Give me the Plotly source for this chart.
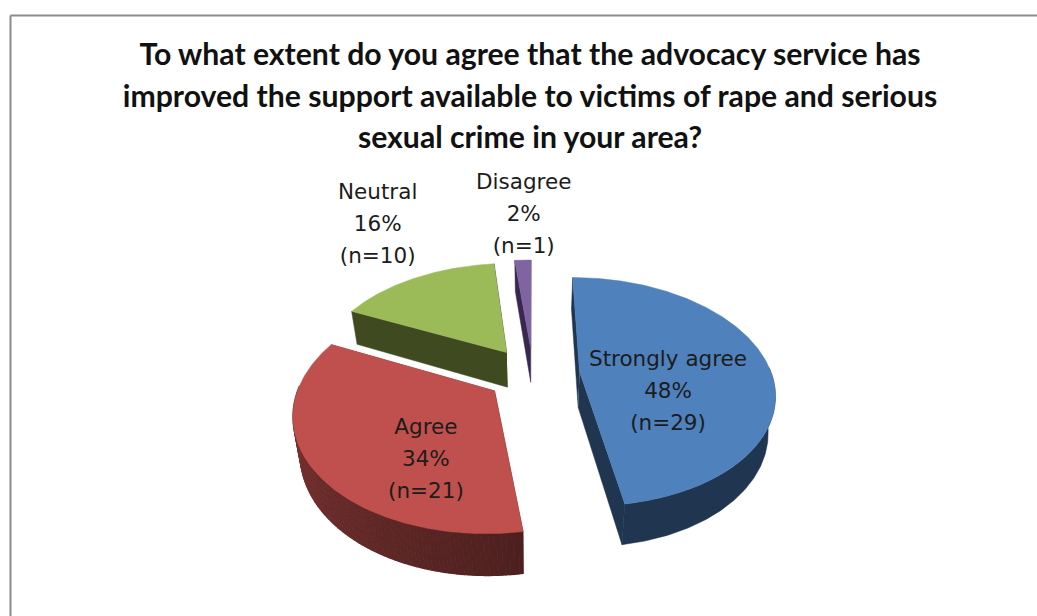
import numpy as np
import plotly.graph_objects as go

# ---- data ----
categories = ["Strongly agree", "Agree", "Neutral", "Disagree"]
percents = [48, 34, 16, 2]
counts = [29, 21, 10, 1]
title_lines = [
    "To what extent do you agree that the advocacy service has",
    "improved the support available to victims of rape and serious",
    "sexual crime in your area?",
]

# ---- style and geometry ----
top_colors = ["#4F81BD", "#C0504D", "#9BBB59", "#8064A2"]
side_colors = ["#1F3550", "#C0504D", "#3F4A20", "#38284F"]
# wall brightness at the start/end of each slice's arc (only Agree is graded)
wall_shade = [(1, 1), (0.40, 0.72), (1, 1), (1, 1)]
label_xy = [(668, 390), (426, 458), (377, 223), (523, 213)]
W, H = 1037, 616
CX, CY, A, B, K = 533, 374, 192, 111.5, 0.174
EXPLODE, DEPTH = 0.244, 35.5


def project(u, v):
    s = 1 / (1 - K * v)
    return CX + A * u * s, CY + B * v * s


def lower(x, y):
    return CX + (x - CX) * 0.97, y + DEPTH + (y - CY) * 0.04


def shade(hex_color, f):
    r, g, b = (int(hex_color[i:i + 2], 16) for i in (1, 3, 5))
    return f"rgb({r * f:.0f},{g * f:.0f},{b * f:.0f})"


def poly(xs, ys, color, width=0.5):
    return go.Scatter(x=list(xs), y=list(ys), mode="lines", fill="toself", fillcolor=color,
                      line=dict(color=color, width=width), hoverinfo="skip", showlegend=False)


fig = go.Figure()
total = sum(counts)
edges = np.cumsum([0] + counts) / total * 2 * np.pi
tops = []
for i in range(len(categories)):
    t0, t1 = edges[i], edges[i + 1]
    mid = (t0 + t1) / 2
    du, dv = EXPLODE * np.sin(mid), -EXPLODE * np.cos(mid)
    t = np.linspace(t0, t1, 241)
    x, y = project(du + np.sin(t), dv - np.cos(t))
    ax, ay = project(du, dv)
    lx, ly = lower(x, y)
    lax, lay = lower(ax, ay)
    s0, s1 = wall_shade[i]
    # radial faces
    fig.add_trace(poly([ax, x[0], lx[0], lax], [ay, y[0], ly[0], lay], shade(side_colors[i], s0)))
    fig.add_trace(poly([ax, x[-1], lx[-1], lax], [ay, y[-1], ly[-1], lay], shade(side_colors[i], s1)))
    # outer wall: only the part that faces the viewer
    front = -np.cos(t) > -0.05
    if front.any():
        idx = np.where(front)[0]
        a, b = idx[0], idx[-1]
        if s0 == s1:
            fig.add_trace(poly(np.r_[x[a:b + 1], lx[a:b + 1][::-1]], np.r_[y[a:b + 1], ly[a:b + 1][::-1]],
                               shade(side_colors[i], s0)))
        else:
            for j in range(a, b, 2):
                k = min(j + 2, b)
                f = s0 + (s1 - s0) * j / 240
                fig.add_trace(poly(np.r_[x[j:k + 1], lx[j:k + 1][::-1]], np.r_[y[j:k + 1], ly[j:k + 1][::-1]],
                                   shade(side_colors[i], f), width=1.2))
    tops.append(poly(np.r_[ax, x], np.r_[ay, y], top_colors[i]))
for tr in tops:
    fig.add_trace(tr)

annotations = []
for name, pct, n, (lx_, ly_) in zip(categories, percents, counts, label_xy):
    text = "<br>".join(f'<span style="font-size:21.5px">{s}</span>' for s in (name, f"{pct}%", f"(n={n})"))
    annotations.append(dict(x=lx_, y=ly_, xref="x", yref="y", text=text, showarrow=False, align="center",
                            font=dict(family="DejaVu Sans", size=24.8, color="#1c1c1c")))

title_text = "<br>".join(f'<span style="font-size:30.2px">{s}</span>' for s in title_lines)
fig.update_layout(
    width=W, height=H, margin=dict(l=0, r=0, t=0, b=0),
    paper_bgcolor="white", plot_bgcolor="white", showlegend=False,
    title=dict(text=title_text, x=530 / W, xanchor="center", y=1 - 65 / H, yanchor="top",
               font=dict(family="Lato", size=32, color="#111111", weight="bold"),
               pad=dict(t=0)),
    xaxis=dict(range=[0, W], visible=False, fixedrange=True),
    yaxis=dict(range=[H, 0], visible=False, fixedrange=True),
    annotations=annotations,
    shapes=[
        dict(type="line", xref="paper", yref="paper", x0=10.5 / W, x1=1, y0=1 - 15.5 / H, y1=1 - 15.5 / H,
             line=dict(color="#8a8a8a", width=2)),
        dict(type="line", xref="paper", yref="paper", x0=10.5 / W, x1=10.5 / W, y0=0, y1=1 - 15.5 / H,
             line=dict(color="#8a8a8a", width=2)),
    ],
)
fig.write_html("out.html", config=dict(displayModeBar=False),
               post_script="document.body.style.margin='0';document.body.style.overflow='hidden';")
